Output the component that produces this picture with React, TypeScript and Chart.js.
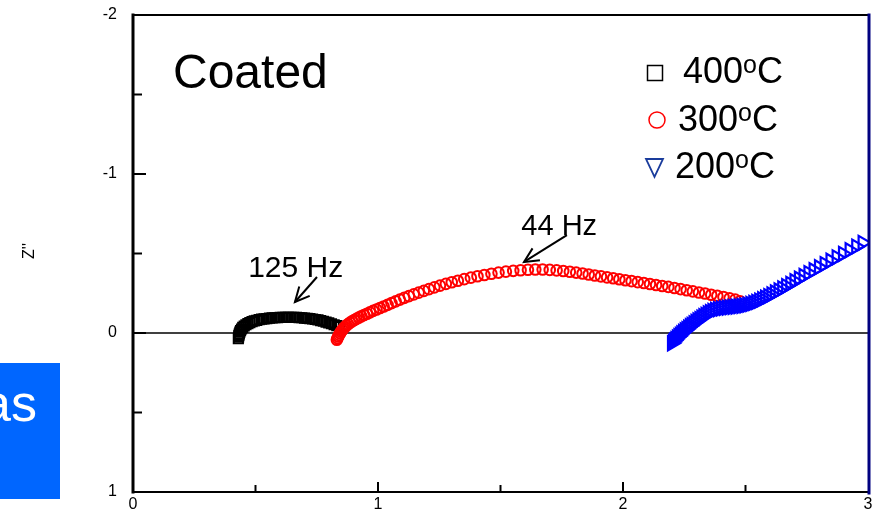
import React, { useEffect, useRef } from "react";
import { Chart, registerables } from "chart.js";

Chart.register(...registerables);

// ---------- data ----------
const xTicks = [0, 1, 2, 3];
const yTicks = [-2, -1, 0, 1];
const xMinorTicks = [0.5, 1.5, 2.5];
const yMinorTicks = [-1.5, -0.5, 0.5];

const legendLabels = ["400", "300", "200"];
const titleText = "Coated";
const axisTitleY = "Z''";
const annot125 = "125 Hz";
const annot44 = "44 Hz";
const sideText = "as";

// 400 °C (black squares)
const s400: [number, number][] = [
  [0.430, 0.035], [0.431, 0.025], [0.432, 0.015], [0.434, 0.005], [0.436, -0.005],
  [0.439, -0.015], [0.443, -0.025], [0.448, -0.035], [0.454, -0.044], [0.461, -0.052],
  [0.469, -0.059], [0.477, -0.065], [0.486, -0.071], [0.495, -0.076], [0.505, -0.080],
  [0.515, -0.084], [0.525, -0.087], [0.535, -0.089], [0.546, -0.091], [0.557, -0.093],
  [0.568, -0.095], [0.579, -0.096], [0.590, -0.097], [0.601, -0.098], [0.612, -0.098],
  [0.623, -0.099], [0.634, -0.099], [0.645, -0.099], [0.656, -0.098], [0.667, -0.098],
  [0.678, -0.097], [0.689, -0.096], [0.700, -0.094], [0.711, -0.092], [0.722, -0.090],
  [0.733, -0.088], [0.744, -0.085], [0.755, -0.082], [0.766, -0.078], [0.777, -0.074],
  [0.788, -0.069], [0.799, -0.064], [0.810, -0.058], [0.821, -0.052], [0.832, -0.046],
  [0.843, -0.040],
];

// 300 °C (red circles)
const s300: [number, number][] = [
  [0.832, 0.042], [0.835, 0.032], [0.838, 0.022], [0.841, 0.012], [0.845, 0.002],
  [0.849, -0.008], [0.854, -0.018], [0.859, -0.028], [0.865, -0.038], [0.871, -0.047],
  [0.878, -0.056], [0.886, -0.065], [0.894, -0.073], [0.903, -0.081], [0.912, -0.089],
  [0.922, -0.097], [0.932, -0.105], [0.943, -0.113], [0.955, -0.121], [0.967, -0.130],
  [0.980, -0.139], [0.994, -0.148], [1.008, -0.157], [1.023, -0.167], [1.039, -0.177],
  [1.055, -0.188], [1.072, -0.199], [1.089, -0.210], [1.107, -0.221], [1.126, -0.232],
  [1.146, -0.243], [1.166, -0.254], [1.187, -0.265], [1.208, -0.276], [1.230, -0.287],
  [1.253, -0.298], [1.277, -0.309], [1.301, -0.319], [1.326, -0.329], [1.352, -0.339],
  [1.379, -0.348], [1.406, -0.357], [1.434, -0.365], [1.463, -0.373], [1.492, -0.380],
  [1.522, -0.386], [1.552, -0.391], [1.582, -0.395], [1.612, -0.398], [1.642, -0.399],
  [1.672, -0.399], [1.701, -0.397], [1.729, -0.394], [1.756, -0.390], [1.783, -0.385],
  [1.809, -0.380], [1.835, -0.374], [1.860, -0.368], [1.885, -0.362], [1.910, -0.356],
  [1.935, -0.350], [1.960, -0.344], [1.985, -0.338], [2.010, -0.332], [2.035, -0.326],
  [2.060, -0.320], [2.085, -0.314], [2.110, -0.308], [2.135, -0.302], [2.160, -0.296],
  [2.185, -0.290], [2.210, -0.283], [2.235, -0.276], [2.260, -0.269], [2.285, -0.262],
  [2.310, -0.255], [2.335, -0.248], [2.360, -0.241], [2.385, -0.234], [2.410, -0.226],
  [2.435, -0.218], [2.458, -0.210], [2.478, -0.200],
];

// 200 °C (blue triangles)
const s200: [number, number][] = [
  [2.200, 0.065], [2.204, 0.056], [2.209, 0.047], [2.214, 0.038], [2.220, 0.029],
  [2.226, 0.020], [2.232, 0.011], [2.238, 0.002], [2.245, -0.007], [2.252, -0.016],
  [2.259, -0.025], [2.266, -0.034], [2.273, -0.043], [2.280, -0.052], [2.288, -0.061],
  [2.296, -0.070], [2.304, -0.079], [2.312, -0.088], [2.320, -0.097], [2.328, -0.106],
  [2.337, -0.115], [2.346, -0.124], [2.355, -0.132], [2.365, -0.139], [2.376, -0.145],
  [2.388, -0.150], [2.400, -0.154], [2.412, -0.157], [2.424, -0.160], [2.436, -0.162],
  [2.448, -0.164], [2.460, -0.166], [2.472, -0.168], [2.484, -0.171], [2.496, -0.174],
  [2.508, -0.178], [2.520, -0.183], [2.532, -0.189], [2.544, -0.196], [2.556, -0.204],
  [2.568, -0.213], [2.580, -0.222], [2.593, -0.232], [2.606, -0.243], [2.620, -0.255],
  [2.635, -0.268], [2.650, -0.281], [2.666, -0.295], [2.683, -0.310], [2.700, -0.326],
  [2.718, -0.342], [2.737, -0.359], [2.757, -0.377], [2.778, -0.395], [2.800, -0.414],
  [2.823, -0.434], [2.847, -0.455], [2.872, -0.476], [2.898, -0.498], [2.925, -0.521],
  [2.952, -0.544], [2.978, -0.567],
];

// annotation anchors in data units
const arrow125: [number, number][] = [[0.751, -0.352], [0.661, -0.195]];
const arrow44: [number, number][] = [[1.771, -0.616], [1.596, -0.447]];
const label125Pos: [number, number] = [0.47, -0.353];
const label44Pos: [number, number] = [1.585, -0.615];

const FONT = '"Liberation Sans", Arial, Helvetica, sans-serif';

export default function App() {
  const ref = useRef<HTMLCanvasElement>(null);

  useEffect(() => {
    document.body.style.margin = "0";
    const canvas = ref.current!;
    const pts = (a: [number, number][]) => a.map(([x, y]) => ({ x, y }));

    const drawArrow = (ctx: CanvasRenderingContext2D, x0: number, y0: number, x1: number, y1: number) => {
      ctx.beginPath();
      ctx.moveTo(x0, y0);
      ctx.lineTo(x1, y1);
      ctx.stroke();
      const ang = Math.atan2(y1 - y0, x1 - x0);
      const len = 16;
      const spread = 0.45;
      ctx.beginPath();
      ctx.moveTo(x1 - len * Math.cos(ang - spread), y1 - len * Math.sin(ang - spread));
      ctx.lineTo(x1, y1);
      ctx.lineTo(x1 - len * Math.cos(ang + spread), y1 - len * Math.sin(ang + spread));
      ctx.stroke();
    };

    const decor = {
      id: "decor",
      beforeDatasetsDraw(chart: any) {
        const { ctx, chartArea: a, scales } = chart;
        const y0 = scales.y.getPixelForValue(0);
        ctx.save();
        ctx.strokeStyle = "#000";
        ctx.lineWidth = 1.3;
        ctx.beginPath();
        ctx.moveTo(a.left, y0);
        ctx.lineTo(a.right, y0);
        ctx.stroke();
        ctx.restore();
      },
      afterDatasetsDraw(chart: any) {
        const { ctx, chartArea: a, scales } = chart;
        const xs = scales.x, ys = scales.y;
        ctx.save();
        // frame
        ctx.lineCap = "square";
        ctx.strokeStyle = "#000";
        ctx.lineWidth = 2;
        ctx.beginPath();
        ctx.moveTo(a.left, a.top);
        ctx.lineTo(a.right, a.top);
        ctx.stroke();
        ctx.beginPath();
        ctx.moveTo(a.left, a.bottom);
        ctx.lineTo(a.right, a.bottom);
        ctx.stroke();
        ctx.lineWidth = 3;
        ctx.beginPath();
        ctx.moveTo(a.left, a.top);
        ctx.lineTo(a.left, a.bottom);
        ctx.stroke();
        ctx.strokeStyle = "#000080";
        ctx.beginPath();
        ctx.moveTo(a.right + 1, a.top);
        ctx.lineTo(a.right + 1, a.bottom + 1);
        ctx.stroke();
        ctx.lineCap = "butt";

        // ticks (inward)
        ctx.strokeStyle = "#000";
        ctx.lineWidth = 2;
        xTicks.forEach((v) => {
          if (v === 0 || v === 3) return;
          const px = xs.getPixelForValue(v);
          ctx.beginPath(); ctx.moveTo(px, a.bottom); ctx.lineTo(px, a.bottom - 10); ctx.stroke();
        });
        xMinorTicks.forEach((v) => {
          const px = xs.getPixelForValue(v);
          ctx.beginPath(); ctx.moveTo(px, a.bottom); ctx.lineTo(px, a.bottom - 7); ctx.stroke();
        });
        yTicks.forEach((v) => {
          if (v === -2 || v === 1) return;
          const py = ys.getPixelForValue(v);
          ctx.beginPath(); ctx.moveTo(a.left, py); ctx.lineTo(a.left + 13, py); ctx.stroke();
        });
        yMinorTicks.forEach((v) => {
          const py = ys.getPixelForValue(v);
          ctx.beginPath(); ctx.moveTo(a.left, py); ctx.lineTo(a.left + 9, py); ctx.stroke();
        });

        // tick labels
        ctx.fillStyle = "#000";
        ctx.font = `16px ${FONT}`;
        ctx.textAlign = "right";
        ctx.textBaseline = "middle";
        yTicks.forEach((v) => {
          ctx.fillText(String(v), a.left - 16, ys.getPixelForValue(v));
        });
        ctx.textAlign = "center";
        xTicks.forEach((v) => {
          ctx.fillText(String(v), xs.getPixelForValue(v), a.bottom + 13);
        });

        // title
        ctx.textBaseline = "alphabetic";
        ctx.textAlign = "left";
        ctx.font = `48px ${FONT}`;
        ctx.fillText(titleText, a.left + 40, a.top + 73);

        // legend
        const lx = a.left + 522;
        const rows = [a.top + 68, a.top + 116, a.top + 163];
        const tx = [a.left + 550, a.left + 545, a.left + 542];
        ctx.lineWidth = 1.5;
        ctx.strokeStyle = "#000";
        ctx.strokeRect(lx - 7.5, rows[0] - 17.5, 15, 15);
        ctx.strokeStyle = "#ff0000";
        ctx.beginPath(); ctx.arc(lx + 2, rows[1] - 11, 8, 0, Math.PI * 2); ctx.stroke();
        ctx.strokeStyle = "#1a3c9c";
        ctx.lineWidth = 1.8;
        ctx.beginPath();
        ctx.moveTo(lx - 9, rows[2] - 19);
        ctx.lineTo(lx + 8, rows[2] - 19);
        ctx.lineTo(lx - 0.5, rows[2] - 1);
        ctx.closePath();
        ctx.stroke();
        ctx.fillStyle = "#000";
        legendLabels.forEach((lab, i) => {
          ctx.font = `36px ${FONT}`;
          ctx.fillText(lab, tx[i], rows[i]);
          const w = ctx.measureText(lab).width;
          ctx.font = `25px ${FONT}`;
          ctx.fillText("o", tx[i] + w, rows[i] - 10);
          const w2 = ctx.measureText("o").width;
          ctx.font = `36px ${FONT}`;
          ctx.fillText("C", tx[i] + w + w2, rows[i]);
        });

        // annotations
        ctx.lineWidth = 2;
        ctx.strokeStyle = "#000";
        const P = (p: [number, number]) => [xs.getPixelForValue(p[0]), ys.getPixelForValue(p[1])];
        const [a0x, a0y] = P(arrow125[0]);
        const [a1x, a1y] = P(arrow125[1]);
        drawArrow(ctx, a0x, a0y, a1x, a1y);
        const [b0x, b0y] = P(arrow44[0]);
        const [b1x, b1y] = P(arrow44[1]);
        drawArrow(ctx, b0x, b0y, b1x, b1y);
        ctx.font = `30px ${FONT}`;
        const [l1x, l1y] = P(label125Pos);
        ctx.fillText(annot125, l1x, l1y);
        ctx.font = `29px ${FONT}`;
        const [l2x, l2y] = P(label44Pos);
        ctx.fillText(annot44, l2x, l2y);

        // y axis title
        ctx.save();
        ctx.font = `16px ${FONT}`;
        ctx.textAlign = "center";
        ctx.textBaseline = "middle";
        ctx.translate(30, 251);
        ctx.rotate(-Math.PI / 2);
        ctx.fillText(axisTitleY, 0, 0);
        ctx.restore();

        // side blue box
        ctx.fillStyle = "#0066ff";
        ctx.fillRect(0, 363, 60, 136);
        ctx.fillStyle = "#ffffff";
        ctx.font = `52px ${FONT}`;
        ctx.textAlign = "right";
        ctx.fillText(sideText, 37, 421);
        ctx.restore();
      },
    };

    const chart = new Chart(canvas, {
      type: "scatter",
      data: {
        datasets: [
          {
            label: "400",
            data: pts(s400),
            pointStyle: "rect",
            pointRadius: 6.5,
            pointBorderWidth: 2,
            pointBorderColor: "#000000",
            pointBackgroundColor: "rgba(0,0,0,0)",
            showLine: false,
            order: 3,
          },
          {
            label: "300",
            data: pts(s300),
            pointStyle: "circle",
            pointRadius: 5.3,
            pointBorderWidth: 2,
            pointBorderColor: "#ff0000",
            pointBackgroundColor: "rgba(0,0,0,0)",
            showLine: false,
            order: 2,
          },
          {
            label: "200",
            data: pts(s200),
            pointStyle: "triangle",
            rotation: 90,
            pointRadius: 8,
            pointBorderWidth: 2.2,
            pointBorderColor: "#0000ff",
            pointBackgroundColor: "rgba(0,0,0,0)",
            showLine: false,
            order: 1,
          },
        ],
      },
      options: {
        animation: false,
        responsive: false,
        devicePixelRatio: 1,
        events: [],
        layout: { padding: { left: 0, right: 11, top: 15, bottom: 0 } },
        plugins: { legend: { display: false }, tooltip: { enabled: false } },
        scales: {
          x: {
            type: "linear",
            min: 0,
            max: 3,
            afterFit: (s: any) => { s.height = 26; },
            afterBuildTicks: (s: any) => { s.ticks = xTicks.map((v) => ({ value: v })); },
            grid: { display: false, drawTicks: false },
            border: { display: false },
            ticks: { display: false },
          },
          y: {
            type: "linear",
            min: -2,
            max: 1,
            reverse: true,
            afterFit: (s: any) => { s.width = 133; },
            afterBuildTicks: (s: any) => { s.ticks = yTicks.map((v) => ({ value: v })); },
            grid: { display: false, drawTicks: false },
            border: { display: false },
            ticks: { display: false },
          },
        },
      },
      plugins: [decor],
    } as any);

    return () => chart.destroy();
  }, []);

  return (
    <div style={{ width: 879, height: 518, position: "relative" }}>
      <canvas ref={ref} width={879} height={518} style={{ display: "block" }} />
    </div>
  );
}
